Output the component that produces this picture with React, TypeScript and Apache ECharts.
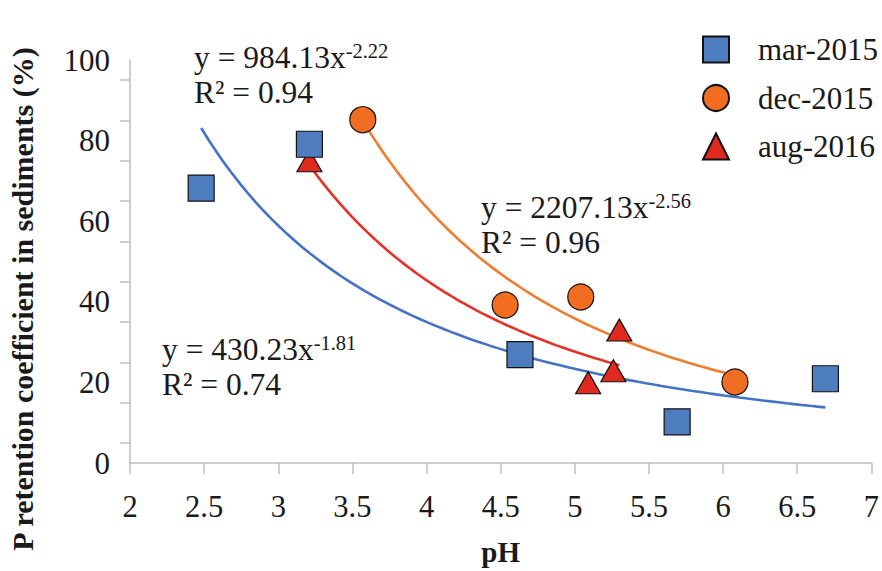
import React, { useEffect, useRef } from "react";
import * as echarts from "echarts";

// ---- data ----
const SERIES_NAMES = ["mar-2015", "dec-2015", "aug-2016"];
const MAR_X = [2.48, 3.21, 4.63, 5.69, 6.69];
const MAR_Y = [68.2, 79.1, 26.9, 10.2, 20.9];
const DEC_X = [3.57, 4.53, 5.04, 6.08];
const DEC_Y = [85.2, 39.2, 41.2, 20.1];
const AUG_X = [3.21, 5.09, 5.26, 5.3];
const AUG_Y = [75.0, 19.9, 22.9, 33.0];

// power trendlines y = a * x^b, as printed on the chart
const FIT_A = [430.23, 2207.13, 984.13];
const FIT_B = [-1.81, -2.56, -2.22];
const FIT_R2 = ["0.74", "0.96", "0.94"];

const Y_TICK_LABELS = [0, 20, 40, 60, 80, 100];
const Y_TICK_MARKS = [5, 15, 25, 35, 45, 55, 65, 75, 85, 95];

const SERIF = "'Liberation Serif', 'Times New Roman', serif";
const TEXT = "#1a1a1a";
const AXIS = "#bfbfbf";
const MARKER_COLORS = ["#4d7dbf", "#f06d22", "#e0291f"];
const LINE_COLORS = ["#4472c4", "#ee7d30", "#e53228"];

function pairs(xs: number[], ys: number[]) {
  return xs.map((x, i) => [x, ys[i]]);
}

function trend(a: number, b: number, xs: number[]) {
  const lo = Math.min(...xs);
  const hi = Math.max(...xs);
  const n = 80;
  const out: number[][] = [];
  for (let i = 0; i <= n; i++) {
    const x = lo + ((hi - lo) * i) / n;
    out.push([x, a * Math.pow(x, b)]);
  }
  return out;
}

function eqText(a: number, b: number, r2: string, x: number, y: number) {
  return {
    type: "text",
    x,
    y,
    z: 10,
    style: {
      text: `{m|y = ${a.toFixed(2)}x}{s|${b.toFixed(2)}}\n{m|R² = ${r2}}`,
      fill: TEXT,
      fontFamily: SERIF,
      verticalAlign: "top",
      rich: {
        m: { fontFamily: SERIF, fontSize: 31.5, lineHeight: 35, fill: TEXT },
        s: { fontFamily: SERIF, fontSize: 20.5, lineHeight: 17, verticalAlign: "top", fill: TEXT },
      },
    },
  };
}

export default function App() {
  const ref = useRef<HTMLDivElement>(null);

  useEffect(() => {
    if (!ref.current) return;
    const chart = echarts.init(ref.current, null, { renderer: "svg" });
    const allX = [MAR_X, DEC_X, AUG_X];
    const allY = [MAR_Y, DEC_Y, AUG_Y];
    const symbols = ["rect", "circle", "triangle"];
    const sizes: any[] = [26, 26, [25, 22]];

    const scatter = [2, 1, 0].map((i) => ({
      name: SERIES_NAMES[i],
      type: "scatter",
      data: pairs(allX[i], allY[i]),
      symbol: symbols[i],
      symbolSize: sizes[i],
      z: 5 + (2 - i),
      itemStyle: { color: MARKER_COLORS[i], borderColor: "#111", borderWidth: 1.2, opacity: 1 },
    }));

    const lines = [0, 1, 2].map((i) => ({
      name: "trend-" + SERIES_NAMES[i],
      type: "line",
      data: trend(FIT_A[i], FIT_B[i], allX[i]),
      showSymbol: false,
      symbol: "none",
      z: 3,
      lineStyle: { color: LINE_COLORS[i], width: 2.6 },
      silent: true,
    }));

    chart.setOption({
      animation: false,
      backgroundColor: "#ffffff",
      grid: { left: 130, right: 10, top: 60, bottom: 99 },
      legend: {
        orient: "vertical",
        left: 697,
        top: 29,
        itemWidth: 26,
        itemHeight: 26,
        itemGap: 17.5,
        data: SERIES_NAMES,
        textStyle: {
          fontFamily: SERIF,
          fontSize: 31,
          lineHeight: 26,
          color: TEXT,
          padding: [0, 0, 0, 24],
        },
      },
      xAxis: {
        type: "value",
        min: 2,
        max: 7,
        interval: 0.5,
        splitLine: { show: false },
        axisLine: { show: true, lineStyle: { color: AXIS, width: 1.5 } },
        axisTick: { show: true, inside: false, length: 11, lineStyle: { color: AXIS, width: 1.5 } },
        axisLabel: { fontFamily: SERIF, fontSize: 30.5, color: TEXT, margin: 28 },
        name: "pH",
        nameLocation: "middle",
        nameGap: 74,
        nameTextStyle: { fontFamily: SERIF, fontSize: 29, fontWeight: "bold", color: TEXT },
      },
      yAxis: {
        type: "value",
        min: 0,
        max: 100,
        interval: 20,
        splitLine: { show: false },
        axisLine: { show: true, lineStyle: { color: AXIS, width: 1.5 } },
        axisTick: {
          show: true,
          inside: false,
          length: 10,
          customValues: Y_TICK_MARKS,
          lineStyle: { color: AXIS, width: 1.5 },
        },
        axisLabel: {
          fontFamily: SERIF,
          fontSize: 31,
          color: TEXT,
          margin: 20,
          customValues: Y_TICK_LABELS,
        },
      },
      graphic: [
        {
          type: "text",
          x: 22,
          y: 299,
          rotation: Math.PI / 2,
          style: {
            text: "P retention coefficient in sediments (%)",
            fontFamily: SERIF,
            fontSize: 30,
            fontWeight: "bold",
            fill: TEXT,
            align: "center",
            verticalAlign: "middle",
          },
        },
        eqText(FIT_A[2], FIT_B[2], FIT_R2[2], 194, 40),
        eqText(FIT_A[1], FIT_B[1], FIT_R2[1], 481, 190),
        eqText(FIT_A[0], FIT_B[0], FIT_R2[0], 162, 332),
      ],
      series: [...lines, ...scatter],
    });
    return () => chart.dispose();
  }, []);

  return (
    <div
      ref={ref}
      style={{ position: "fixed", left: 0, top: 0, width: 882, height: 571, background: "#fff" }}
    />
  );
}
